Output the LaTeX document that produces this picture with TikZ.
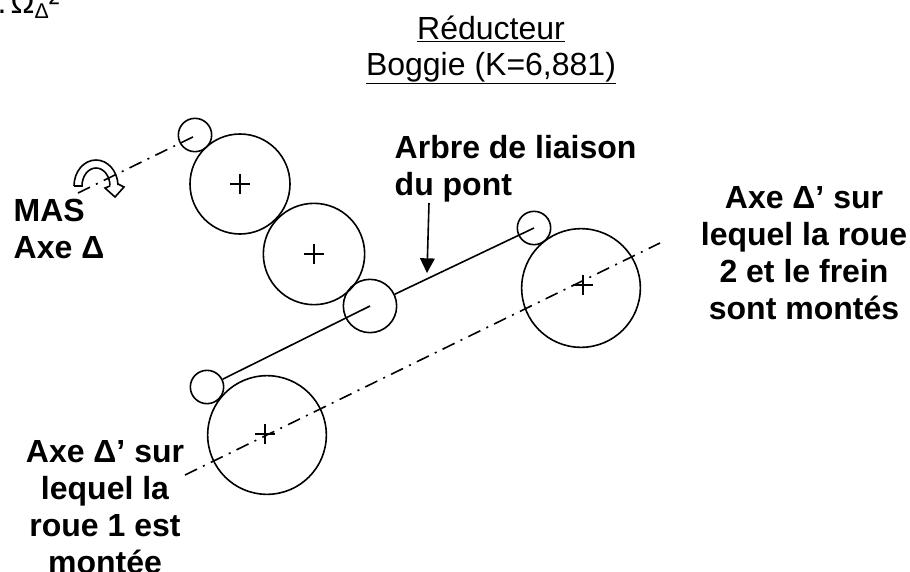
\documentclass[tikz,border=0pt]{standalone}
\usepackage{fontspec}
\setmainfont{Liberation Sans}
\usetikzlibrary{arrows.meta,positioning,calc}

\tikzset{
    roue/.style={draw, circle, line width=1.2pt, inner sep=0pt},
    titre/.style={font=\fontsize{24}{27}\selectfont, align=center},
    legende/.style={font=\fontsize{24}{27.7}\selectfont\bfseries, align=center},
    axe/.style={line width=1.2pt, dash pattern=on 10pt off 5pt on 1.5pt off 5pt},
    trait/.style={line width=1.2pt},
    croix/.style={line width=0.9pt}
}

\begin{document}
\begin{tikzpicture}[x=0.75pt,y=-0.75pt]
        \useasboundingbox (0,0) rectangle (910,571);

        % Wheels
        \node[roue, minimum size=75pt] (roueA) at (240,184) {};
        \node[roue, minimum size=76pt] (roueB) at (314,254) {};
        \node[roue, minimum size=40pt] (roueC) at (370,306) {};
        \node[roue, minimum size=89pt] (roueD) at (581,288) {};
        \node[roue, minimum size=89pt] (roueE) at (267,435) {};

        % Small circles
        \node[roue, minimum size=25pt] (petitA) at (195,135) {};
        \node[roue, minimum size=25pt] (petitB) at (534,228) {};
        \node[roue, minimum size=25pt] (petitC) at (207,387) {};

        % Shafts
        \draw[trait] (roueC) -- (petitB.center);
        \draw[trait] (petitC) -- (roueC.center);

        % Axes
        \coordinate (axeAdebut) at (78,193);
        \coordinate (axeAfin) at (199,134);
        \coordinate (axeBdebut) at (185,475);
        \coordinate (axeBfin) at (660,243);
        \draw[axe] (axeAdebut) -- (axeAfin);
        \draw[axe] (axeBdebut) -- (axeBfin);

        % Crosses
        \foreach \cx/\cy in {240/184, 314/254, 583/285, 265/434} {
            \draw[croix] (\cx-10,\cy) -- (\cx+10,\cy);
            \draw[croix] (\cx,\cy-10) -- (\cx,\cy+10);
        }

        % Rotation arrow
        \draw[trait] (74,186) arc (180:358:22 and 26) -- (118,184)
            (74,186) -- (82,186) arc (180:358:14 and 18)
            (110,186) -- (105,188) -- (115,197) -- (124,187) -- (118,184);

        % Labels
        \node[titre] (titre) at (491,50) {\underline{Réducteur}\\\underline{Boggie (K=6,881)}};
        \node[legende, align=left, anchor=west] (arbre) at (390,169) {Arbre de liaison\\du pont};
        \node[legende, align=left, anchor=west] (mas) at (9,229) {MAS\\Axe Δ};
        \node[legende] (axedroit) at (804,253) {Axe Δ’ sur\\lequel la roue\\2 et le frein\\sont montés};
        \node[legende] (axegauche) at (105,507) {Axe Δ’ sur\\lequel la\\roue 1 est\\montée};
        \node[font=\fontsize{24}{26}\selectfont, anchor=base west] (omega) at (-7,13) {.\hspace{3pt}Ω\raisebox{-4pt}{\fontsize{16}{16}\selectfont Δ}²};

        % Pointer to the shaft
        \coordinate (pointe) at (427,273);
        \draw[trait, -{Triangle[length=11pt,width=11pt]}] (429,203) -- (pointe);
    \end{tikzpicture}
\end{document}
